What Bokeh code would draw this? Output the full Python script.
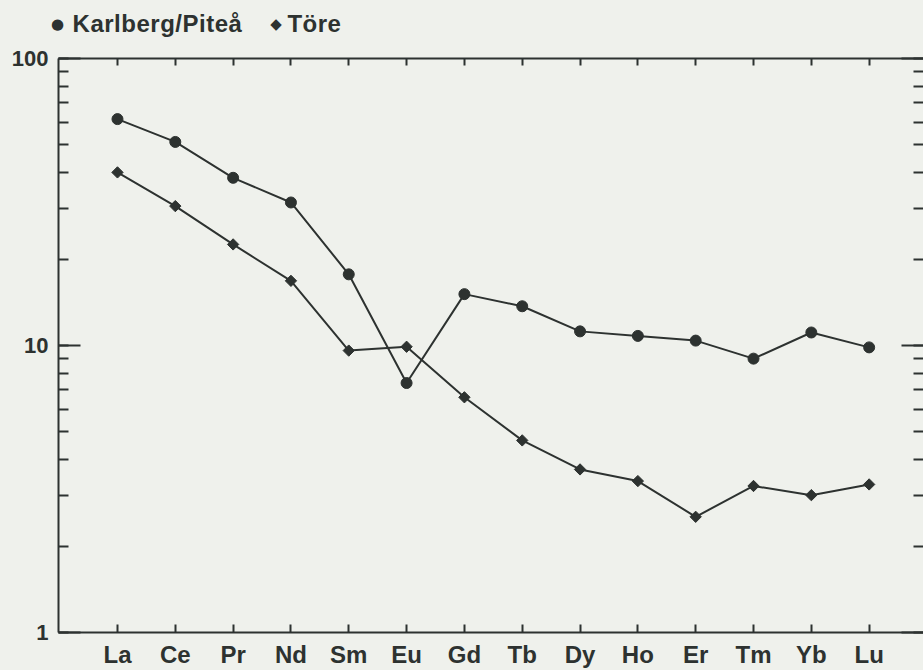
import numpy as np
from bokeh.plotting import figure
from bokeh.layouts import column
from bokeh.models import (Range1d, LinearAxis, LogAxis, FixedTicker, LogTicker,
                          ColumnDataSource, Div)
from bokeh.embed import file_html
from bokeh.resources import INLINE

# ---- data (chondrite-normalised REE) ----
elements = ["La", "Ce", "Pr", "Nd", "Sm", "Eu", "Gd", "Tb", "Dy", "Ho", "Er", "Tm", "Yb", "Lu"]
karlberg = [61.5, 51.2, 38.4, 31.5, 17.7, 7.4, 15.1, 13.7, 11.2, 10.8, 10.4, 9.0, 11.1, 9.85]
tore = [40.1, 30.6, 22.5, 16.8, 9.6, 9.9, 6.6, 4.67, 3.70, 3.37, 2.53, 3.24, 3.01, 3.28]
series_names = ["Karlberg/Piteå", "Töre"]
series_symbols = ["●", "◆"]
y_tick_values = [1, 10, 100]

BG = "#eff1ec"
INK = "#2d3230"
FONT = "Liberation Sans"
HEADER_H = 45

xpos = list(range(1, len(elements) + 1))

# ---------- header with the key ----------
key_html = (
    f'<div style="display:flex;align-items:center;height:{HEADER_H}px;width:923px;'
    f'margin:0;padding:4px 0 0 0;box-sizing:border-box;background:{BG};'
    f"font-family:'{FONT}';font-weight:bold;font-size:24px;letter-spacing:0.5px;color:{INK};\">"
    f'<span style="font-family:\'DejaVu Sans\';font-size:15px;margin-left:51px;">{series_symbols[0]}</span>'
    f'<span style="margin-left:8px;">{series_names[0]}</span>'
    f'<span style="font-family:\'DejaVu Sans\';font-size:15px;margin-left:28px;">{series_symbols[1]}</span>'
    f'<span style="margin-left:5px;">{series_names[1]}</span>'
    f'</div>'
)
hdr = Div(text=key_html, width=923, height=HEADER_H, margin=0)

# ---------- main chart ----------
p = figure(width=923, height=670 - HEADER_H, y_axis_type="log",
           x_range=Range1d(-0.02, 14.94), y_range=Range1d(1, 100),
           output_backend="svg", toolbar_location=None,
           x_axis_location=None, y_axis_location=None,
           min_border_left=58, min_border_right=0,
           min_border_top=58 - HEADER_H, min_border_bottom=38)
p.background_fill_color = BG
p.border_fill_color = BG
p.outline_line_color = None
p.xgrid.visible = False
p.ygrid.visible = False

xb = LinearAxis(ticker=FixedTicker(ticks=xpos),
                major_label_overrides={x: e for x, e in zip(xpos, elements)})
xt = LinearAxis(ticker=FixedTicker(ticks=xpos))
for ax, tin in ((xb, 8), (xt, 7)):
    ax.axis_line_color = INK
    ax.axis_line_width = 2
    ax.major_tick_line_color = INK
    ax.major_tick_line_width = 2
    ax.major_tick_in = tin
    ax.major_tick_out = 0
    ax.minor_tick_line_color = None
xb.major_label_text_font = FONT
xb.major_label_text_font_style = "bold"
xb.major_label_text_font_size = "24px"
xb.major_label_text_color = INK
xb.major_label_standoff = 8
xt.major_label_text_font_size = "1px"
xt.major_label_text_color = None
xt.major_label_standoff = 0

yl = LogAxis(ticker=LogTicker(desired_num_ticks=3, num_minor_ticks=10))
yr = LogAxis(ticker=LogTicker(desired_num_ticks=3, num_minor_ticks=10))
for ax in (yl, yr):
    ax.major_tick_line_color = INK
    ax.major_tick_line_width = 2
    ax.major_tick_in = 22
    ax.major_tick_out = 0
    ax.minor_tick_line_color = INK
    ax.minor_tick_line_width = 2
    ax.minor_tick_in = 10
    ax.minor_tick_out = 0
yl.axis_line_color = INK
yl.axis_line_width = 2
yl.major_label_overrides = {v: str(v) for v in y_tick_values}
yl.major_label_text_font = FONT
yl.major_label_text_font_style = "bold"
yl.major_label_text_font_size = "22px"
yl.major_label_text_color = INK
yl.major_label_standoff = 10
yr.axis_line_color = None
yr.major_label_text_font_size = "1px"
yr.major_label_text_color = None
yr.major_label_standoff = 0

src = ColumnDataSource(dict(x=xpos, k=karlberg, t=tore))
p.line("x", "k", source=src, line_color=INK, line_width=2)
p.line("x", "t", source=src, line_color=INK, line_width=2)
p.scatter("x", "k", source=src, marker="circle", size=11, fill_color=INK, line_color=INK)
p.scatter("x", "t", source=src, marker="square", angle=np.pi / 4, size=8,
          fill_color=INK, line_color=INK)

p.add_layout(xb, "below")
p.add_layout(xt, "above")
p.add_layout(yl, "left")
p.add_layout(yr, "right")

layout = column(hdr, p, spacing=0)
html = file_html(layout, INLINE)
html = html.replace("<head>", "<head><style>html,body{background:%s;}</style>" % BG, 1)
open("out.html", "w").write(html)
